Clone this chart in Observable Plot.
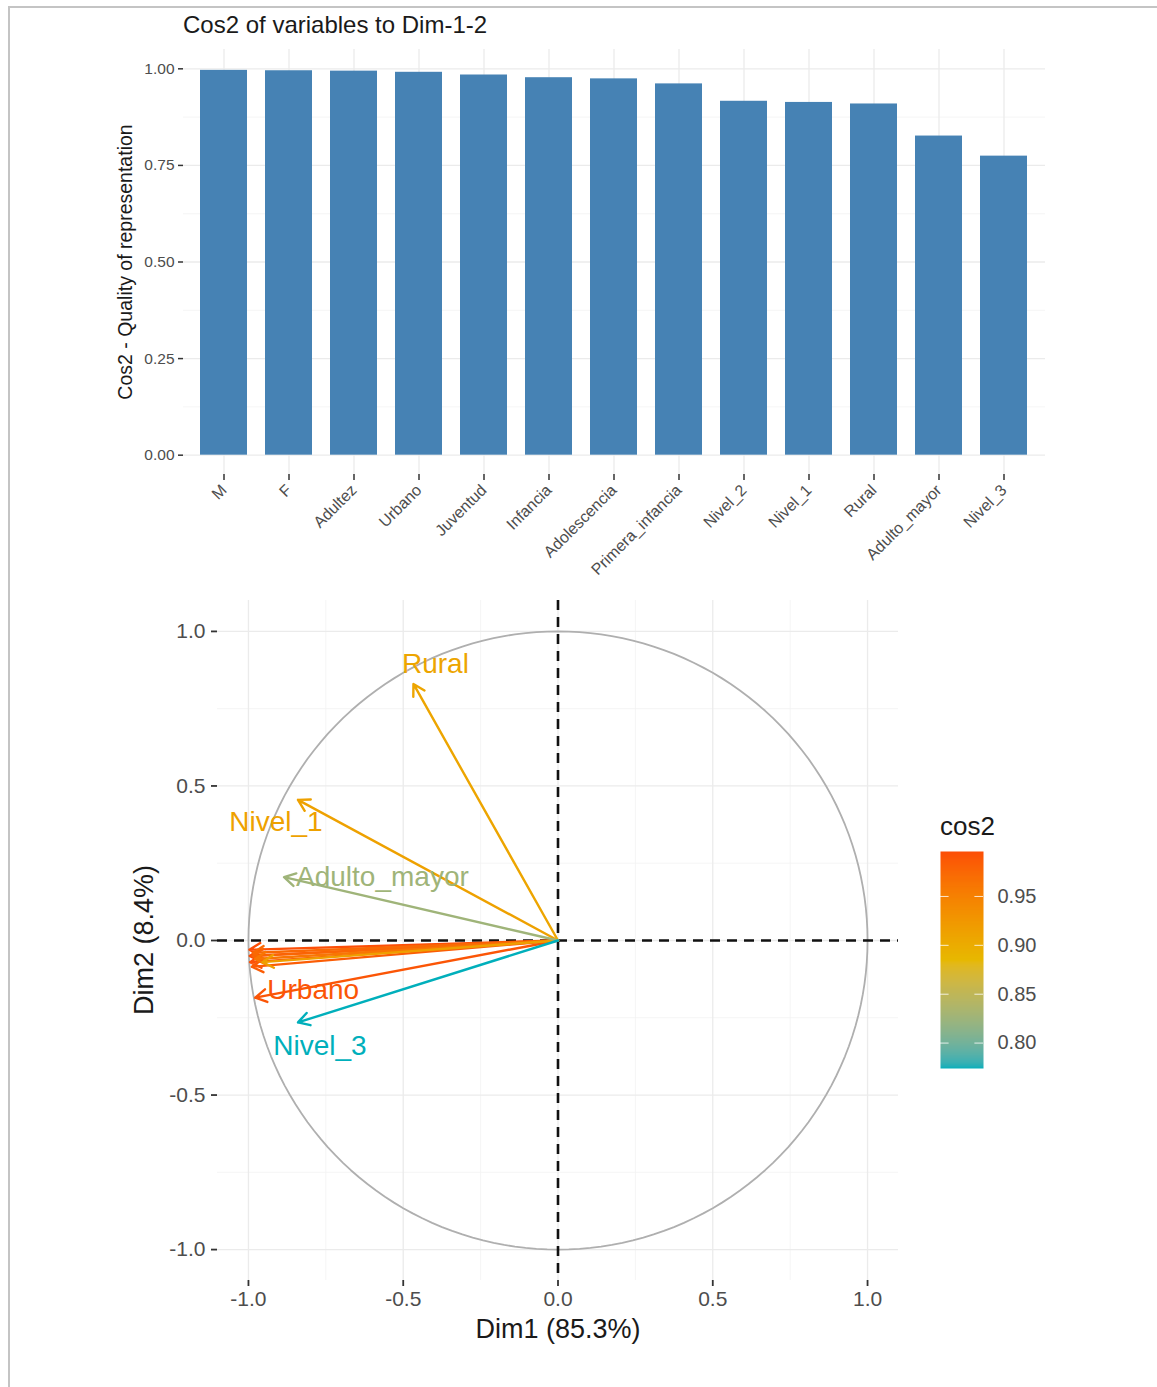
<!DOCTYPE html>
<html>
<head>
<meta charset="utf-8">
<script src="https://cdn.jsdelivr.net/npm/d3@7"></script>
<script src="https://cdn.jsdelivr.net/npm/@observablehq/plot@0.6"></script>
<style>
  body { margin: 0; background: #fff; font-family: "Liberation Sans", Arial, sans-serif; }
  #page { position: relative; width: 1157px; height: 1387px; overflow: hidden; background: #fff; }
  .frame { position: absolute; left: 8px; top: 6px; right: -4px; bottom: -4px;
           border-left: 2px solid #c4c4c4; border-top: 2px solid #c4c4c4; }
  .abs { position: absolute; line-height: 1; white-space: nowrap; }
  .center { transform: translate(-50%, -50%); }
  .vert { transform: translate(-50%, -50%) rotate(-90deg); }
  .chart { position: absolute; left: 0; }
</style>
</head>
<body>
<div id="page">
  <div class="frame"></div>
  <div class="abs" style="left:183px; top:13px; font-size:24px; color:#1a1a1a;">Cos2 of variables to Dim-1-2</div>
  <div class="abs vert" style="left:126px; top:262px; font-size:19.5px; color:#1a1a1a;">Cos2 - Quality of representation</div>
  <div id="bars" class="chart" style="top:0px;"></div>
  <div id="pca" class="chart" style="top:580px;"></div>
  <div class="abs center" style="left:558px; top:1329px; font-size:27px; color:#1a1a1a;">Dim1 (85.3%)</div>
  <div class="abs vert" style="left:144px; top:940px; font-size:27px; color:#1a1a1a;">Dim2 (8.4%)</div>
  <div class="abs" style="left:940px; top:813px; font-size:26px; color:#1a1a1a;">cos2</div>
  <div id="legend" class="chart" style="left:940px; top:841px;"></div>
</div>
<script>
// Variables, ordered by decreasing quality of representation on Dim 1-2
const variables = ["M", "F", "Adultez", "Urbano", "Juventud", "Infancia", "Adolescencia",
  "Primera_infancia", "Nivel_2", "Nivel_1", "Rural", "Adulto_mayor", "Nivel_3"];
const cos2 = [0.996, 0.995, 0.994, 0.991, 0.984, 0.977, 0.974, 0.961, 0.916, 0.913, 0.909, 0.826, 0.774];
// Coordinates of each variable on the first two dimensions
const dim1 = [-0.997, -0.996, -0.995, -0.978, -0.989, -0.987, -0.986, -0.979, -0.955, -0.840, -0.467, -0.885, -0.840];
const dim2 = [-0.030, -0.050, -0.070, -0.185, -0.085, -0.050, -0.040, -0.060, -0.070, 0.455, 0.830, 0.205, -0.265];

// Tick values
const barTicks = [0, 0.25, 0.5, 0.75, 1];
const barMinor = [0.125, 0.375, 0.625, 0.875];
const pcaTicks = [-1, -0.5, 0, 0.5, 1];
const pcaMinor = [-0.75, -0.25, 0.25, 0.75];
const legendTicks = [0.8, 0.85, 0.9, 0.95];

// Variables whose names are printed next to their arrows
const labelled = ["Rural", "Nivel_1", "Adulto_mayor", "Urbano", "Nivel_3"];

const rows = variables.map((v, i) => ({variable: v, cos2: cos2[i], dim1: dim1[i], dim2: dim2[i]}));

const font = '"Liberation Sans", Arial, sans-serif';
const gridMajor = {stroke: "#EBEBEB", strokeOpacity: 1, strokeWidth: 1.3};
const gridMinor = {stroke: "#F3F3F3", strokeOpacity: 1, strokeWidth: 0.8};

// ---- Bar chart of cos2 ----
const bars = Plot.plot({
  width: 1157, height: 590,
  marginLeft: 183, marginRight: 112, marginTop: 49, marginBottom: 116,
  style: {fontFamily: font, background: "transparent", overflow: "visible"},
  x: {type: "band", domain: variables, paddingInner: 0.27, paddingOuter: 0.235, axis: null},
  y: {domain: [-0.05, 1.05], axis: null},
  marks: [
    Plot.gridY(barMinor, gridMinor),
    Plot.gridY(barTicks, gridMajor),
    Plot.gridX(variables, gridMajor),
    Plot.barY(rows, {x: "variable", y1: 0, y2: "cos2", fill: "#4682B4"}),
    Plot.axisY(barTicks, {tickFormat: d => d.toFixed(2), tickSize: 5, tickPadding: 4,
      fontSize: 15.5, fill: "#4D4D4D", stroke: "#333", strokeWidth: 1.5, label: null}),
    Plot.axisX(variables, {tickRotate: -45, tickSize: 6, tickPadding: 7,
      fontSize: 16, fill: "#4D4D4D", stroke: "#333", strokeWidth: 1.5, label: null})
  ]
});
document.getElementById("bars").appendChild(bars);

// ---- Correlation circle ----
const lo = d3.min(cos2), hi = d3.max(cos2);
const colorScale = {type: "linear", domain: [lo, (lo + hi) / 2, hi],
  range: ["#00AFBB", "#E7B800", "#FC4E07"], interpolate: "lab"};

// unit circle outline
const circle = d3.range(0, 361, 2).map(a => ({cx: Math.cos(a * Math.PI / 180), cy: Math.sin(a * Math.PI / 180)}));

// placement of the printed names relative to the arrow tips (pixels)
const labelPlacement = {
  Rural: {dx: 22, dy: -20, textAnchor: "middle"},
  Nivel_1: {dx: -22, dy: 22, textAnchor: "middle"},
  Adulto_mayor: {dx: 12, dy: 0, textAnchor: "start"},
  Urbano: {dx: 12, dy: -8, textAnchor: "start"},
  Nivel_3: {dx: 22, dy: 24, textAnchor: "middle"}
};

const pca = Plot.plot({
  width: 1157, height: 800,
  marginLeft: 217, marginRight: 259, marginTop: 20, marginBottom: 100,
  style: {fontFamily: font, background: "transparent", overflow: "visible"},
  x: {domain: [-1.1, 1.1], axis: null},
  y: {domain: [-1.1, 1.1], axis: null},
  color: colorScale,
  marks: [
    Plot.gridX(pcaMinor, gridMinor),
    Plot.gridY(pcaMinor, gridMinor),
    Plot.gridX(pcaTicks, gridMajor),
    Plot.gridY(pcaTicks, gridMajor),
    Plot.line(circle, {x: "cx", y: "cy", stroke: "#AFAFAF", strokeWidth: 1.8}),
    Plot.ruleX([0], {stroke: "#111", strokeWidth: 2.6, strokeDasharray: "10,7"}),
    Plot.ruleY([0], {stroke: "#111", strokeWidth: 2.6, strokeDasharray: "10,7"}),
    Plot.arrow(rows, {x1: d => 0, y1: d => 0, x2: "dim1", y2: "dim2", stroke: "cos2",
      strokeWidth: 2.4, headLength: 8, headAngle: 60}),
    ...labelled.map(name => Plot.text(rows.filter(d => d.variable === name), {
      x: "dim1", y: "dim2", text: "variable", fill: "cos2", fontSize: 28,
      ...labelPlacement[name]
    })),
    Plot.axisY(pcaTicks, {tickFormat: d => d.toFixed(1), tickSize: 6, tickPadding: 6,
      fontSize: 21, fill: "#4D4D4D", stroke: "#333", strokeWidth: 1.8, label: null}),
    Plot.axisX(pcaTicks, {tickFormat: d => d.toFixed(1), tickSize: 6, tickPadding: 5,
      fontSize: 21, fill: "#4D4D4D", stroke: "#333", strokeWidth: 1.8, label: null})
  ]
});
document.getElementById("pca").appendChild(pca);

// ---- Colour bar for cos2 ----
const legend = Plot.plot({
  width: 130, height: 237,
  marginLeft: 0, marginRight: 87, marginTop: 10, marginBottom: 10,
  style: {fontFamily: font, background: "transparent", overflow: "visible"},
  x: {domain: [0, 1], axis: null},
  y: {domain: [lo, hi], axis: null},
  color: colorScale,
  marks: [
    Plot.raster({x1: 0, x2: 1, y1: lo, y2: hi, width: 2, height: 256, fill: (x, y) => y}),
    Plot.ruleY(legendTicks, {x1: 0, x2: 0.2, stroke: "white", strokeOpacity: 0.8, strokeWidth: 1}),
    Plot.ruleY(legendTicks, {x1: 0.8, x2: 1, stroke: "white", strokeOpacity: 0.8, strokeWidth: 1}),
    Plot.axisY(legendTicks, {anchor: "right", tickSize: 0, tickPadding: 14,
      tickFormat: d => d.toFixed(2), fontSize: 20, fill: "#4D4D4D", label: null})
  ]
});
document.getElementById("legend").appendChild(legend);
</script>
</body>
</html>
